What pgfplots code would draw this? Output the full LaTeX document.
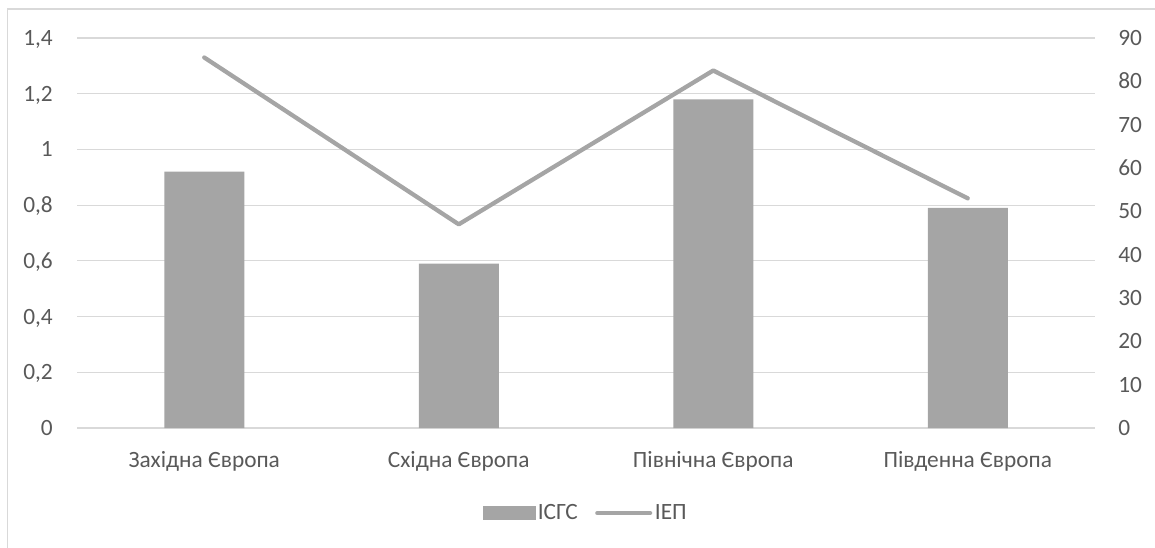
\documentclass[border=0pt]{standalone}
\usepackage{pgfplots}
\pgfplotsset{compat=1.18}
\usepackage{fontspec}
\setmainfont{Carlito}
\definecolor{barc}{HTML}{A5A5A5}
\definecolor{gridc}{HTML}{D9D9D9}
\definecolor{txtc}{HTML}{595959}
\begin{document}
\begin{tikzpicture}
\useasboundingbox (0pt,0pt) rectangle (866.25pt,410.25pt);
\draw[gridc, line width=0.8pt] (5.4pt,-20pt) rectangle (900pt,403.5pt);
\pgfplotsset{
  common/.style={
    at={(57.75pt,89.25pt)}, anchor=south west,
    scale only axis, width=763.5pt, height=292.5pt,
    xmin=-0.5, xmax=3.5,
    axis line style={draw=none}, major tick length=0pt,
    font=\fontsize{17.5}{20}\selectfont,
    tick label style={text=txtc, font=\fontsize{17.5}{20}\selectfont},
    clip=false,
  }
}
\begin{axis}[common,
  ymin=0, ymax=1.4,
  ytick={0,0.2,0.4,0.6,0.8,1,1.2,1.4},
  yticklabels={0,{0,2},{0,4},{0,6},{0,8},1,{1,2},{1,4}},
  ymajorgrids, grid style={gridc, line width=0.8pt},
  xtick={0,1,2,3},
  xticklabels={Західна Європа, Східна Європа, Північна Європа, Південна Європа},
  yticklabel style={anchor=base east, inner sep=0pt, xshift=-18pt, yshift=-5.6pt},
  xticklabel style={anchor=base, inner sep=0pt, yshift=-29.5pt},
]
\addplot[ybar, bar width=60pt, fill=barc, draw=none] coordinates {(0,0.92) (1,0.59) (2,1.18) (3,0.79)};
\end{axis}
\begin{axis}[common,
  ymin=0, ymax=90,
  ytick={0,10,20,30,40,50,60,70,80,90},
  yticklabels={0,10,20,30,40,50,60,70,80,90},
  yticklabel pos=right,
  xtick=\empty,
  yticklabel style={anchor=base west, inner sep=0pt, xshift=17.25pt, yshift=-5.6pt},
  legend columns=2,
  legend style={at={(0.5,-0.218)}, anchor=center, draw=none, fill=none,
    text=txtc, font=\fontsize{17.5}{20}\selectfont,
    nodes={inner sep=2pt},
    /tikz/every even column/.append style={column sep=11pt}},
]
\addlegendimage{legend image code/.code={\fill[barc] (0pt,-4.875pt) rectangle (39pt,4.875pt);}}
\addlegendentry{ІСГС}
\addplot[barc, line width=3.2pt, line cap=round, line join=round,
  legend image code/.code={\draw[barc, line width=3.2pt, line cap=round] (1.6pt,0pt) -- (41.2pt,0pt);}]
  coordinates {(0,85.5) (1,47) (2,82.5) (3,53)};
\addlegendentry{ІЕП}
\end{axis}
\end{tikzpicture}
\end{document}
